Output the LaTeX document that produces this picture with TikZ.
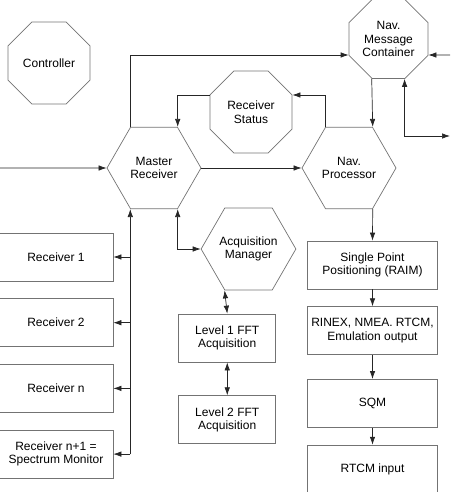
\documentclass[tikz,border=0pt]{standalone}
\usepackage{fontspec}
\setmainfont{Liberation Sans}
\usetikzlibrary{shapes.geometric}
\usetikzlibrary{positioning}
\usetikzlibrary{arrows.meta}
\tikzset{node distance=17pt,
    every node/.style={
        font=\fontsize{12}{13.5}\selectfont,
        align=center},
    octa/.style={
        regular polygon,
        regular polygon sides=8,
        draw=black!55,
        line width=0.7pt,
        inner sep=0pt,
        minimum size=#1},
    hexa/.style={
        regular polygon,
        regular polygon sides=6,
        draw=black!55,
        line width=0.7pt,
        inner sep=0pt,
        minimum size=#1},
    block/.style={
        rectangle,
        draw=black!55,
        line width=0.7pt,
        minimum width=#1,
        minimum height=48pt},
    conn/.style={
        draw=black!85,
        line width=0.7pt,
        -{Latex[length=8pt,width=5.5pt]}}}

\begin{document}
\begin{tikzpicture}[x=1pt,y=-1pt]
        \useasboundingbox (0,0) rectangle (450,492);

        \node[octa=88.8pt] (ctrl) at (49,63) {Controller};
        \node[octa=85.5pt] (nmc) at (388.5,39) {Nav.\\Message\\Container};
        \node[octa=88.8pt] (rs) at (251,112) {Receiver\\Status};
        \node[hexa=94pt] (mr) at (154,168) {Master\\Receiver};
        \node[hexa=94pt] (np) at (349,168) {Nav.\\Processor};
        \node[hexa=85pt] (am) at (248.5,249) {Acquisition\\Manager};

        \node[block=114pt] (r1) at (56,257) {Receiver 1};
        \node[block=114pt,below=of r1] (r2) {Receiver 2};
        \node[block=114pt,below=of r2] (rn) {Receiver n};
        \node[block=114pt,below=of rn] (rn1) {Receiver n+1 =\\Spectrum Monitor};

        \node[block=97pt] (l1) at (227.25,338) {Level 1 FFT\\Acquisition};
        \node[block=97pt,below=33pt of l1] (l2) {Level 2 FFT\\Acquisition};

        \node[block=130pt] (spp) at (372.5,265) {Single Point\\Positioning (RAIM)};
        \node[block=130pt,below=of spp] (rnx) {RINEX, NMEA. RTCM,\\Emulation output};
        \node[block=130pt,below=24pt of rnx] (sqm) {SQM};
        \node[block=130pt,below=of sqm] (rtcm) {RTCM input};

        \coordinate (rfin) at (0,168);
        \coordinate (msgin) at (450,55);
        \coordinate (msgout) at (450,136);

        \draw[conn] (rfin) -- (mr.west);
        \draw[conn] (mr.east) -- (np.west);
        \draw[conn] (mr.120) |- ([yshift=-16pt]nmc.west);
        \draw[conn] (msgin) -- ([yshift=-16pt]nmc.east);
        \draw[conn] (nmc.247.5) -- (np.60);
        \draw[conn,{Latex[length=8pt,width=5.5pt]}-{Latex[length=8pt,width=5.5pt]}] (nmc.292.5) |- (msgout);
        \draw[conn] ([yshift=17pt]rs.west) -| (mr.60);
        \draw[conn] (np.120) |- ([yshift=17pt]rs.east);

        \draw[conn] (rn1.east -| mr.240) -- (mr.240);
        \draw[conn] (r1.east -| mr.240) -- (r1.east);
        \draw[conn] (r2.east -| mr.240) -- (r2.east);
        \draw[conn] (rn.east -| mr.240) -- (rn.east);
        \draw[conn] (rn1.east -| mr.240) -- (rn1.east);

        \draw[conn,{Latex[length=8pt,width=5.5pt]}-{Latex[length=8pt,width=5.5pt]}] (mr.300) |- (am.west);
        \draw[conn,{Latex[length=8pt,width=5.5pt]}-{Latex[length=8pt,width=5.5pt]}] (am.240) -- (l1.north);
        \draw[conn,{Latex[length=8pt,width=5.5pt]}-{Latex[length=8pt,width=5.5pt]}] (l1) -- (l2);

        \draw[conn] (np.300) -- (spp.north);
        \draw[conn] (spp) -- (rnx);
        \draw[conn] (rnx) -- (sqm);
        \draw[conn] (sqm) -- (rtcm);
    \end{tikzpicture}
\end{document}
